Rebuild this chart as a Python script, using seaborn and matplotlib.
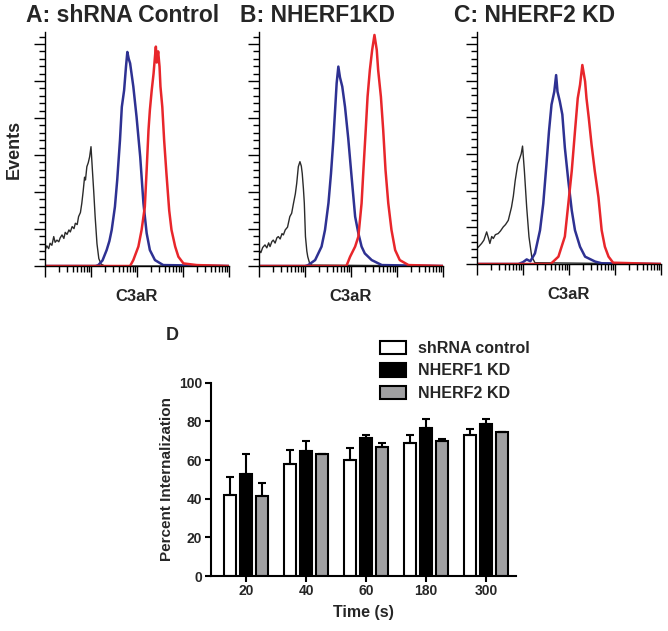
import numpy as np
import pandas as pd
import matplotlib
matplotlib.use("Agg")
import matplotlib.pyplot as plt
import seaborn as sns
from matplotlib.patches import Patch
from matplotlib.ticker import LogLocator, MultipleLocator, NullFormatter

# ---- flow histograms (log10 of C3aR fluorescence, events) ----
a_black_logx = [0.00, 0.04, 0.08, 0.11, 0.15, 0.19, 0.22, 0.26, 0.30, 0.33, 0.37, 0.41, 0.44, 0.48, 0.52, 0.55, 0.59, 0.63, 0.66,
                0.70, 0.73, 0.77, 0.80, 0.83, 0.86, 0.88, 0.91, 0.94, 0.97, 1.00, 1.03, 1.06, 1.09, 1.13, 1.17, 1.22, 1.30, 4.00]
a_black_y = [8.6, 10.9, 9.4, 12.3, 11.2, 15.9, 12.8, 14.0, 13.1, 15.2, 16.8, 14.9, 18.2, 17.1, 19.5, 18.4, 21.3, 20.2, 23.1,
             22.4, 26.7, 28.9, 33.9, 40.5, 48.0, 46.5, 53.7, 55.8, 59.0, 64.5, 52.0, 40.0, 26.7, 12.0, 4.0, 1.0, 0.0, 0.0]
a_blue_logx = [0.00, 1.10, 1.16, 1.25, 1.34, 1.40, 1.45, 1.52, 1.57, 1.63, 1.67, 1.72, 1.76, 1.79, 1.82, 1.85, 1.92, 1.99,
               2.07, 2.14, 2.21, 2.28, 2.39, 2.57, 4.00]
a_blue_y = [0.0, 0.0, 0.5, 3.0, 8.6, 13.5, 19.5, 32.0, 46.5, 68.0, 86.0, 95.0, 107.6, 115.7, 112.0, 109.6, 97.0, 80.7,
            59.0, 33.9, 17.7, 8.6, 3.2, 0.5, 0.0]
a_red_logx = [0.00, 1.85, 1.92, 2.03, 2.10, 2.17, 2.21, 2.25, 2.28, 2.32, 2.36, 2.39, 2.41, 2.43, 2.46, 2.49, 2.51, 2.55,
              2.59, 2.64, 2.70, 2.75, 2.83, 2.90, 3.01, 3.30, 4.00]
a_red_y = [0.0, 0.0, 3.2, 10.5, 19.5, 32.0, 52.0, 73.5, 84.3, 95.0, 104.0, 113.0, 118.6, 110.0, 116.0, 107.7, 97.0, 86.0,
           68.0, 50.0, 30.0, 19.5, 10.5, 5.0, 1.4, 0.5, 0.0]

b_black_logx = [0.00, 0.04, 0.08, 0.13, 0.17, 0.21, 0.24, 0.28, 0.31, 0.35, 0.39, 0.42, 0.46, 0.50, 0.53, 0.57, 0.62, 0.67,
                0.71, 0.75, 0.79, 0.82, 0.855, 0.89, 0.92, 0.94, 0.965, 0.985, 1.01, 1.04, 1.06, 1.10, 1.15, 4.00]
b_black_y = [8.6, 7.2, 10.0, 11.4, 9.8, 12.5, 10.5, 13.2, 14.0, 12.4, 15.3, 15.9, 14.6, 17.5, 16.8, 19.5, 21.0, 26.7,
             28.5, 33.9, 39.0, 44.7, 53.7, 56.4, 54.0, 50.0, 42.0, 34.0, 15.9, 8.0, 5.0, 1.5, 0.5, 0.0]
b_blue_logx = [0.00, 1.00, 1.07, 1.22, 1.36, 1.435, 1.51, 1.565, 1.616, 1.65, 1.688, 1.725, 1.76, 1.81, 1.87, 1.94, 2.01,
               2.09, 2.16, 2.23, 2.30, 2.45, 2.67, 4.00]
b_blue_y = [0.0, 0.0, 0.5, 3.2, 10.5, 19.5, 34.0, 50.0, 68.0, 82.5, 98.8, 107.8, 102.0, 97.0, 86.0, 69.0, 49.0,
            26.7, 17.7, 10.5, 6.8, 3.2, 0.5, 0.0]
b_red_logx = [0.00, 1.90, 1.98, 2.09, 2.16, 2.23, 2.27, 2.32, 2.36, 2.41, 2.46, 2.51, 2.56, 2.59, 2.65, 2.70, 2.75, 2.81,
              2.88, 2.96, 3.06, 3.25, 4.00]
b_red_y = [0.0, 0.0, 5.0, 10.5, 15.9, 33.9, 52.0, 73.5, 91.5, 106.0, 116.8, 124.9, 116.8, 106.0, 91.5, 73.5, 52.0, 34.0,
           19.5, 8.6, 3.2, 0.5, 0.0]

c_black_logx = [0.00, 0.05, 0.10, 0.15, 0.21, 0.25, 0.28, 0.32, 0.355, 0.40, 0.46, 0.51, 0.57, 0.62, 0.68, 0.75, 0.79, 0.83,
                0.885, 0.93, 0.96, 0.99, 1.03, 1.08, 1.13, 1.19, 1.26, 4.00]
c_black_y = [8.5, 9.8, 11.2, 13.0, 17.5, 14.0, 11.2, 15.0, 13.9, 16.0, 16.6, 18.0, 20.2, 21.5, 23.8, 31.0, 37.0, 45.4,
             54.4, 57.7, 60.0, 64.3, 50.8, 31.0, 14.8, 4.0, 0.7, 0.0]
c_blue_logx = [0.00, 0.90, 1.00, 1.08, 1.16, 1.26, 1.37, 1.44, 1.51, 1.565, 1.62, 1.68, 1.72, 1.75, 1.80, 1.855, 1.91,
               1.985, 2.06, 2.13, 2.24, 2.35, 2.57, 2.71, 4.00]
c_blue_y = [0.0, 0.0, 1.0, 2.5, 1.5, 5.8, 18.4, 32.8, 54.4, 72.4, 86.9, 94.0, 103.0, 94.0, 88.7, 81.5, 63.4,
            45.4, 29.2, 18.4, 9.4, 4.0, 1.3, 0.4, 0.0]
c_red_logx = [0.00, 1.60, 1.77, 1.91, 1.985, 2.06, 2.13, 2.19, 2.24, 2.29, 2.35, 2.38, 2.43, 2.49, 2.56, 2.64, 2.71, 2.78,
              2.86, 2.96, 4.00]
c_red_y = [0.0, 0.0, 4.0, 15.0, 32.8, 50.8, 72.4, 90.4, 97.7, 108.5, 99.5, 90.4, 79.6, 65.2, 50.8, 36.4, 18.4, 9.4,
           4.0, 0.7, 0.0]

# ---- internalization bars ----
times = ["20", "40", "60", "180", "300"]
groups = ["shRNA control", "NHERF1 KD", "NHERF2 KD"]
shrna_mean = [42, 58, 60, 69, 73]
shrna_sem = [9, 7, 6, 4, 3]
nherf1_mean = [53, 64.5, 71.5, 76.5, 78.5]
nherf1_sem = [10, 5.5, 1.5, 4.5, 2.5]
nherf2_mean = [41.5, 63, 66.5, 70, 74.5]
nherf2_sem = [6.5, 0, 2.5, 0.8, 0]

sns.set_theme(style="ticks")
plt.rcParams["font.family"] = ["Liberation Sans", "DejaVu Sans"]
plt.rcParams["font.weight"] = "bold"
plt.rcParams["axes.labelweight"] = "bold"

W, H = 668, 631
fig = plt.figure(figsize=(W / 100, H / 100), dpi=100)


def box(l, t, r, b):
    return [l / W, 1 - b / H, (r - l) / W, (b - t) / H]


BLACK, BLUE, RED = "#2b2b2b", "#2e3192", "#e8262b"

panels = [
    ("A: shRNA Control", 26, box(45, 32, 229, 266),
     [(a_black_logx, a_black_y, BLACK, 1.0), (a_blue_logx, a_blue_y, BLUE, 1.8), (a_red_logx, a_red_y, RED, 1.8)]),
    ("B: NHERF1KD", 240, box(259, 32, 443, 266),
     [(b_black_logx, b_black_y, BLACK, 1.0), (b_blue_logx, b_blue_y, BLUE, 1.8), (b_red_logx, b_red_y, RED, 1.8)]),
    ("C: NHERF2 KD", 454, box(477, 32, 661, 264),
     [(c_black_logx, c_black_y, BLACK, 1.0), (c_blue_logx, c_blue_y, BLUE, 1.8), (c_red_logx, c_red_y, RED, 1.8)]),
]

for i, (title, tx, rect, curves) in enumerate(panels):
    ax = fig.add_axes(rect)
    for logx, y, col, lw in curves:
        sns.lineplot(x=10 ** np.array(logx), y=y, color=col, lw=lw, estimator=None, sort=False, ax=ax)
    ax.set_xscale("log")
    ax.set_xlim(1, 1e4)
    ax.set_ylim(0, 126.5)
    ax.xaxis.set_major_locator(LogLocator(base=10, numticks=10))
    ax.xaxis.set_minor_locator(LogLocator(base=10, subs=np.arange(2, 10), numticks=10))
    ax.yaxis.set_major_locator(MultipleLocator(20))
    ax.yaxis.set_minor_locator(MultipleLocator(4))
    for axis in (ax.xaxis, ax.yaxis):
        axis.set_major_formatter(NullFormatter())
        axis.set_minor_formatter(NullFormatter())
    ax.tick_params(which="major", length=8, width=1, color="black")
    ax.tick_params(which="minor", length=4, width=1, color="black")
    sns.despine(ax=ax)
    for s in ("left", "bottom"):
        ax.spines[s].set_color("black")
        ax.spines[s].set_linewidth(1)
    ax.set_xlabel("C3aR", fontsize=12)
    ax.xaxis.set_label_coords(0.5, -0.1)
    ax.set_ylabel("Events" if i == 0 else "", fontsize=13)
    if i == 0:
        ax.yaxis.set_label_coords(-0.12, 0.5)
    fig.text(tx / W, 1 - 15 / H, title, fontsize=16.5, fontweight="bold", va="center")

# ---- panel D ----
df = pd.DataFrame({
    "time": times * 3,
    "group": np.repeat(groups, len(times)),
    "value": shrna_mean + nherf1_mean + nherf2_mean,
})
bar_colors = ["white", "black", "#a0a0a2"]
sems = [shrna_sem, nherf1_sem, nherf2_sem]

ax = fig.add_axes(box(210.7, 382.7, 516, 576))
sns.barplot(data=df, x="time", y="value", hue="group", order=times, hue_order=groups,
            palette=bar_colors, saturation=1, edgecolor="black", linewidth=1.5,
            width=0.8, gap=0.25, errorbar=None, legend=False, ax=ax)
for cont, sem in zip(ax.containers, sems):
    for bar, s in zip(cont, sem):
        ax.errorbar(bar.get_x() + bar.get_width() / 2, bar.get_height(), yerr=[[0], [s]],
                    fmt="none", ecolor="black", elinewidth=1.5, capsize=3, capthick=1.5)
ax.set_ylim(0, 100)
ax.set_xlim(-0.59, 4.5)
ax.yaxis.set_major_locator(MultipleLocator(20))
ax.tick_params(axis="both", length=4, width=1.5, color="black", labelsize=10, pad=2)
for lab in ax.get_xticklabels() + ax.get_yticklabels():
    lab.set_fontweight("bold")
sns.despine(ax=ax)
for s in ("left", "bottom"):
    ax.spines[s].set_color("black")
    ax.spines[s].set_linewidth(1.5)
ax.set_xlabel("Time (s)", fontsize=11.5)
ax.xaxis.set_label_coords(0.5, -0.15)
ax.set_ylabel("Percent Internalization", fontsize=11)
ax.yaxis.set_label_coords(-0.12, 0.5)

handles = [Patch(facecolor=c, edgecolor="black", linewidth=1.5, label=g) for c, g in zip(bar_colors, groups)]
fig.legend(handles=handles, loc="upper left", bbox_to_anchor=(380 / W, 1 - 341 / H), frameon=False,
           prop={"weight": "bold", "size": 11.5}, handlelength=1.65, handleheight=0.9,
           handletextpad=0.7, labelspacing=0.45, borderpad=0, borderaxespad=0)
fig.text(166 / W, 1 - 336 / H, "D", fontsize=13, fontweight="bold", va="center")

fig.savefig("out.png", dpi=100)
